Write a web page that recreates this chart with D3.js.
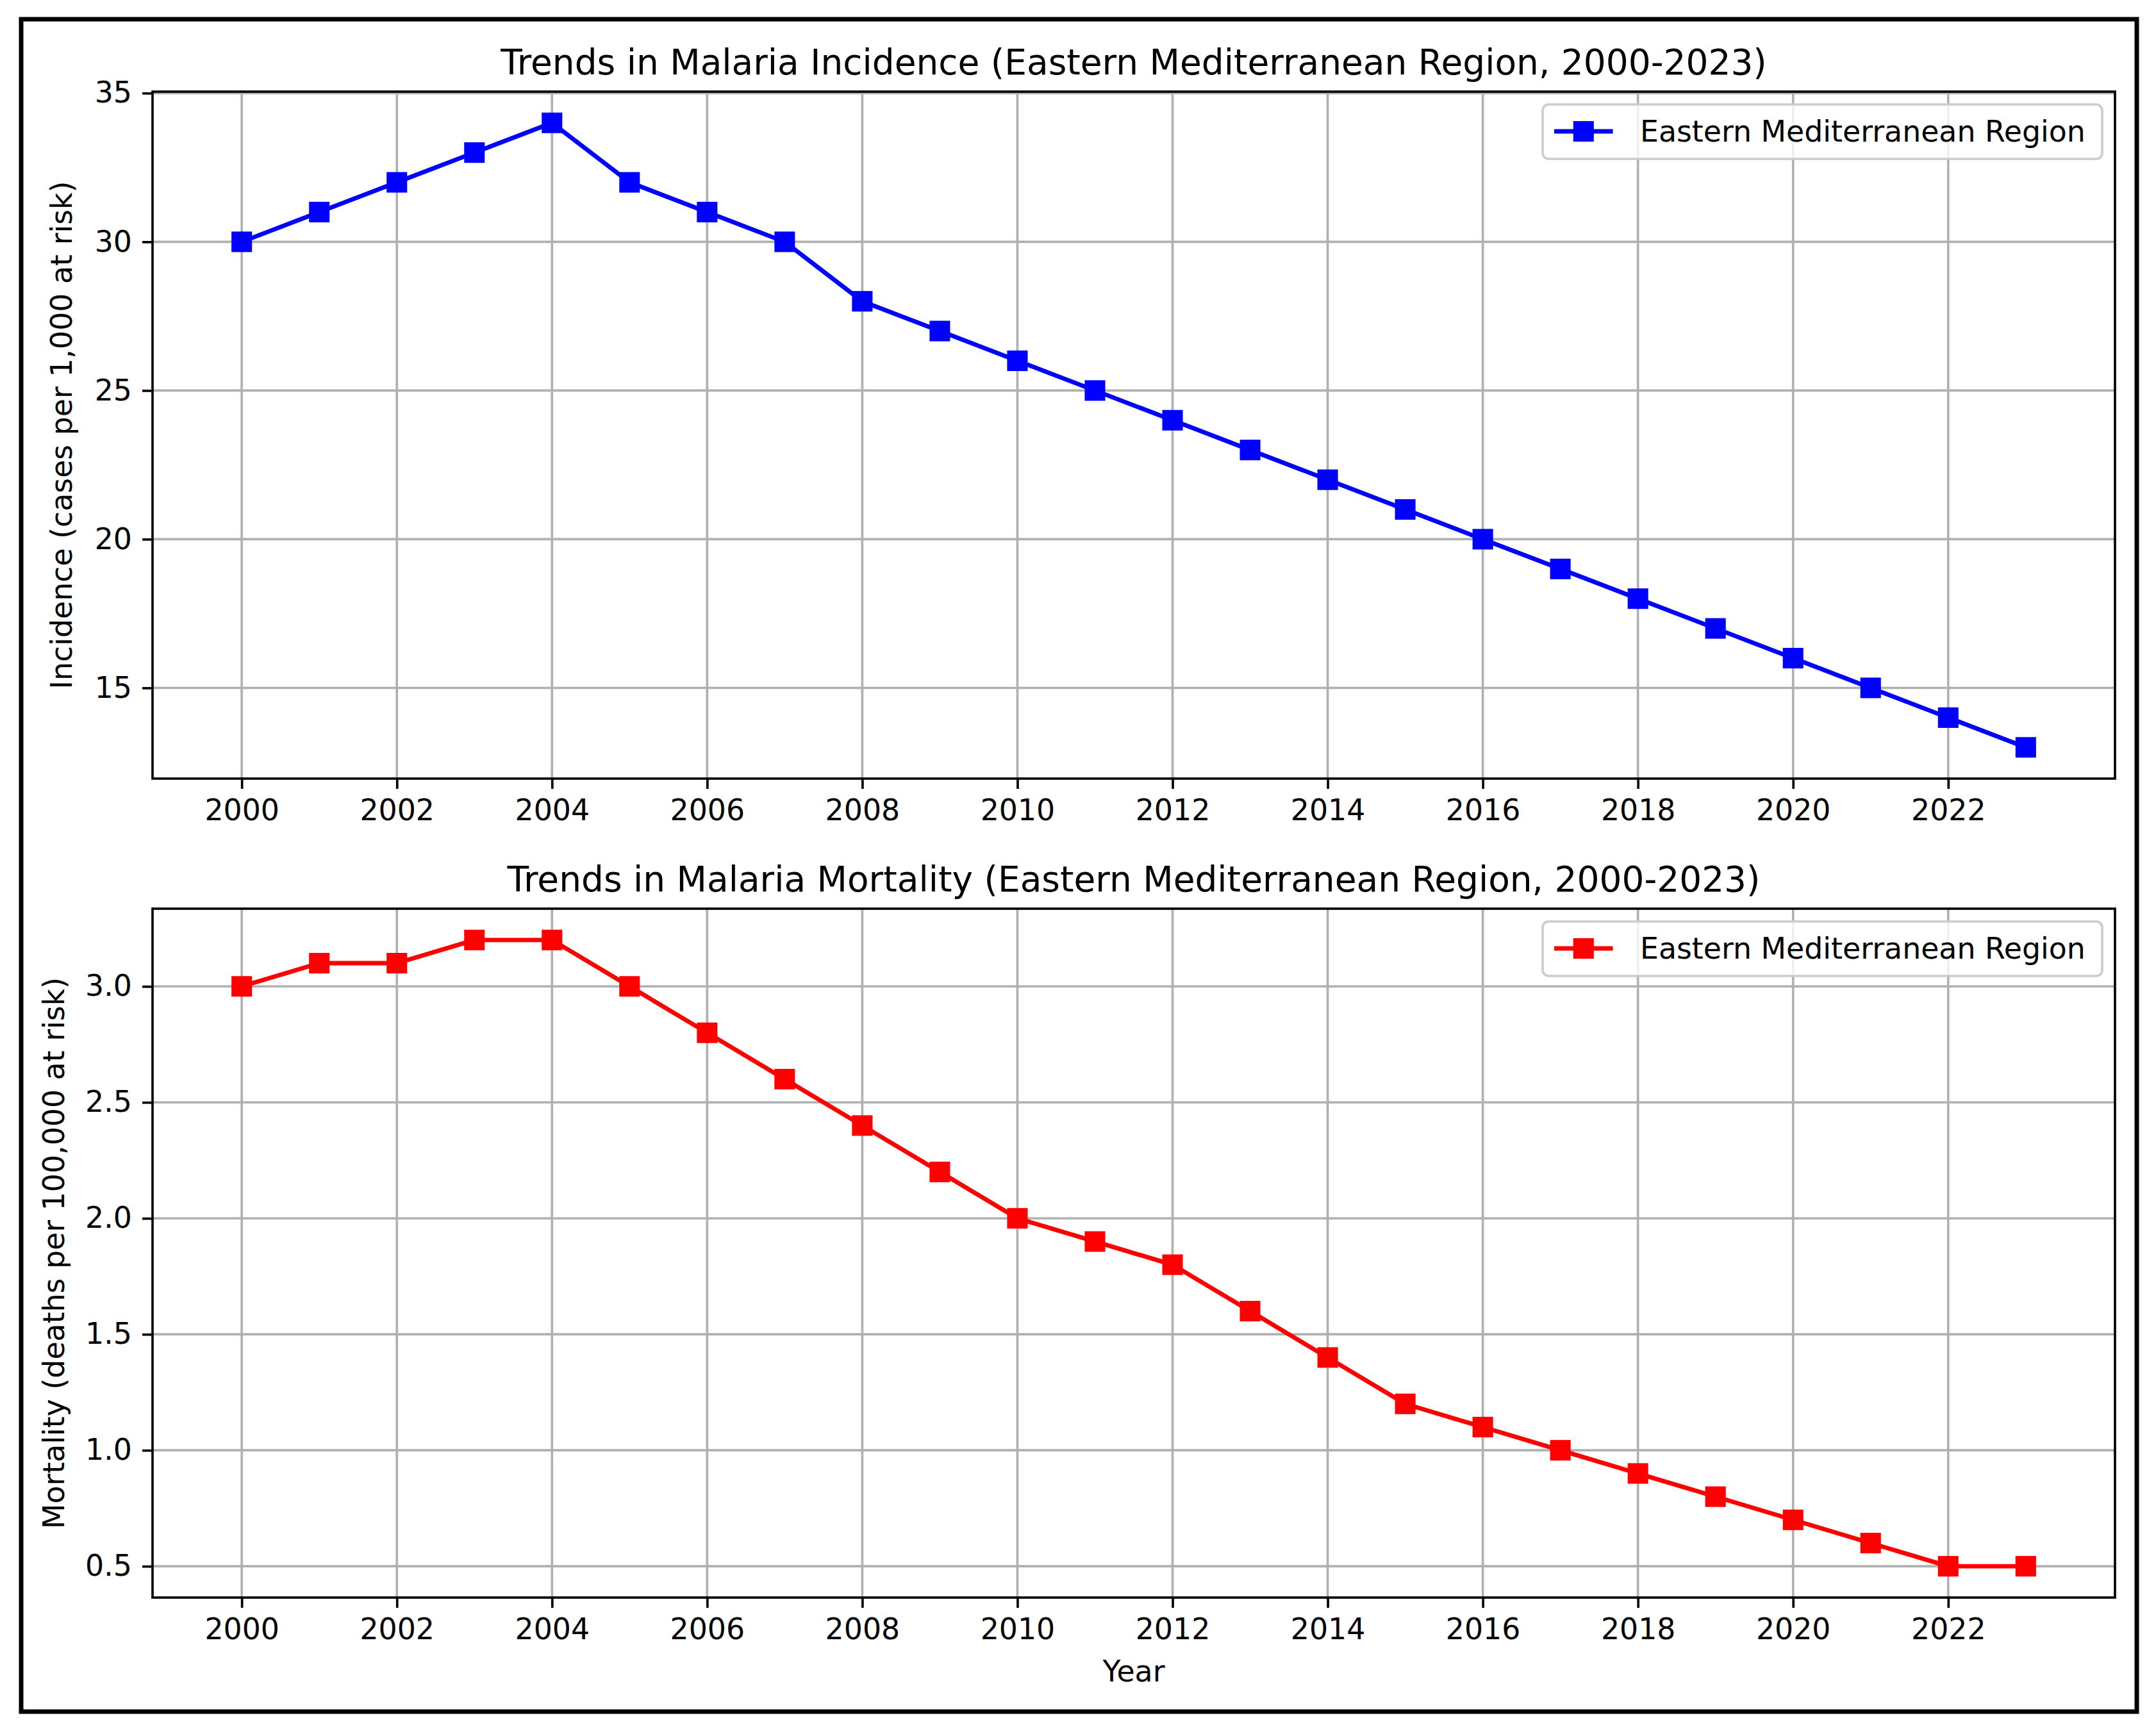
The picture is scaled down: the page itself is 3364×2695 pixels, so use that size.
<!DOCTYPE html>
<html>
<head>
<meta charset="utf-8">
<script src="https://cdn.jsdelivr.net/npm/d3@7"></script>
<style>
  html, body { margin: 0; padding: 0; background: #fff; }
  svg { display: block; }
  text { font-family: "DejaVu Sans", sans-serif; fill: #000; }
</style>
</head>
<body>
<div id="chart"></div>
<script>
// values
const years = [2000, 2001, 2002, 2003, 2004, 2005, 2006, 2007, 2008, 2009, 2010, 2011,
               2012, 2013, 2014, 2015, 2016, 2017, 2018, 2019, 2020, 2021, 2022, 2023];
const incidence = [30, 31, 32, 33, 34, 32, 31, 30, 28, 27, 26, 25,
                   24, 23, 22, 21, 20, 19, 18, 17, 16, 15, 14, 13];
const mortality = [3.0, 3.1, 3.1, 3.2, 3.2, 3.0, 2.8, 2.6, 2.4, 2.2, 2.0, 1.9,
                   1.8, 1.6, 1.4, 1.2, 1.1, 1.0, 0.9, 0.8, 0.7, 0.6, 0.5, 0.5];
const yearTicks = [2000, 2002, 2004, 2006, 2008, 2010, 2012, 2014, 2016, 2018, 2020, 2022];
const incidenceTicks = [15, 20, 25, 30, 35];
const mortalityTicks = [0.5, 1.0, 1.5, 2.0, 2.5, 3.0];
const seriesName = "Eastern Mediterranean Region";

const W = 3364, H = 2695;
const pt = 4.58;            // px per point
const fs = 10 * pt;         // tick / label font
const lw = 0.8 * pt;        // spine, grid, tick width

const svg = d3.select("#chart").append("svg")
  .attr("width", W).attr("height", H)
  .attr("viewBox", `0 0 ${W} ${H}`);

svg.append("rect").attr("width", W).attr("height", H).attr("fill", "#fff");

// outer frame round the figure
svg.append("rect")
  .attr("x", 33).attr("y", 30)
  .attr("width", 3334 - 33).attr("height", 2671 - 30)
  .attr("fill", "none").attr("stroke", "#000").attr("stroke-width", 7);

const left = 238, right = 3300;
// extend by 5% like the original plot margins
function padded(lo, hi) { const m = (hi - lo) * 0.05; return [lo - m, hi + m]; }

const x = d3.scaleLinear().domain(padded(2000, 2023)).range([left, right]);

function panel(cfg) {
  const y = d3.scaleLinear().domain(padded(d3.min(cfg.values), d3.max(cfg.values)))
    .range([cfg.bottom, cfg.top]);
  const g = svg.append("g");

  // grid
  g.append("g").selectAll("line").data(yearTicks).enter().append("line")
    .attr("x1", d => x(d)).attr("x2", d => x(d))
    .attr("y1", cfg.top).attr("y2", cfg.bottom)
    .attr("stroke", "#b0b0b0").attr("stroke-width", lw);
  g.append("g").selectAll("line").data(cfg.ticks).enter().append("line")
    .attr("x1", left).attr("x2", right)
    .attr("y1", d => y(d)).attr("y2", d => y(d))
    .attr("stroke", "#b0b0b0").attr("stroke-width", lw);

  // series
  const line = d3.line().x((d, i) => x(years[i])).y(d => y(d));
  g.append("path").datum(cfg.values)
    .attr("d", line).attr("fill", "none")
    .attr("stroke", cfg.color).attr("stroke-width", 1.5 * pt)
    .attr("stroke-linejoin", "round");
  const ms = 6 * pt;
  g.append("g").selectAll("rect").data(cfg.values).enter().append("rect")
    .attr("x", (d, i) => x(years[i]) - ms / 2).attr("y", d => y(d) - ms / 2)
    .attr("width", ms).attr("height", ms)
    .attr("fill", cfg.color).attr("stroke", cfg.color).attr("stroke-width", pt);

  // axes
  const xAxis = g.append("g").attr("transform", `translate(0,${cfg.bottom})`)
    .call(d3.axisBottom(x).tickValues(yearTicks).tickFormat(d3.format("d"))
      .tickSize(3.5 * pt).tickPadding(3.5 * pt));
  const yAxis = g.append("g").attr("transform", `translate(${left},0)`)
    .call(d3.axisLeft(y).tickValues(cfg.ticks).tickFormat(d3.format(cfg.fmt))
      .tickSize(3.5 * pt).tickPadding(3.5 * pt));
  [xAxis, yAxis].forEach(a => {
    a.select(".domain").remove();
    a.selectAll("line").attr("stroke", "#000").attr("stroke-width", lw);
    a.selectAll("text").style("font-size", fs + "px")
      .style("font-family", '"DejaVu Sans", sans-serif').attr("fill", "#000");
  });

  // spines
  g.append("rect").attr("x", left).attr("y", cfg.top)
    .attr("width", right - left).attr("height", cfg.bottom - cfg.top)
    .attr("fill", "none").attr("stroke", "#000").attr("stroke-width", lw);

  // title
  g.append("text").attr("x", (left + right) / 2).attr("y", cfg.top - 6 * pt)
    .attr("text-anchor", "middle").style("font-size", 12 * pt + "px")
    .text(cfg.title);

  // y label
  g.append("text")
    .attr("transform", `translate(${cfg.labelX},${(cfg.top + cfg.bottom) / 2}) rotate(-90)`)
    .attr("text-anchor", "middle").style("font-size", fs + "px")
    .text(cfg.ylabel);

  // legend
  const lg = g.append("g").attr("transform", `translate(2407,${cfg.top + 20})`);
  lg.append("rect").attr("width", 3280 - 2407).attr("height", 85)
    .attr("rx", 0.2 * fs).attr("fill", "#fff").attr("fill-opacity", 0.8)
    .attr("stroke", "#cccccc").attr("stroke-width", lw);
  lg.append("line").attr("x1", 18).attr("x2", 18 + 2 * fs)
    .attr("y1", 42).attr("y2", 42)
    .attr("stroke", cfg.color).attr("stroke-width", 1.5 * pt);
  lg.append("rect").attr("x", 18 + fs - ms / 2).attr("y", 42 - ms / 2)
    .attr("width", ms).attr("height", ms)
    .attr("fill", cfg.color).attr("stroke", cfg.color).attr("stroke-width", pt);
  lg.append("text").attr("x", 152).attr("y", 58)
    .style("font-size", fs + "px").text(seriesName);

  return g;
}

panel({
  values: incidence, ticks: incidenceTicks, fmt: "d", color: "#0000ff",
  top: 143, bottom: 1215, labelX: 112,
  title: "Trends in Malaria Incidence (Eastern Mediterranean Region, 2000-2023)",
  ylabel: "Incidence (cases per 1,000 at risk)"
});
panel({
  values: mortality, ticks: mortalityTicks, fmt: ".1f", color: "#ff0000",
  top: 1418, bottom: 2493, labelX: 100,
  title: "Trends in Malaria Mortality (Eastern Mediterranean Region, 2000-2023)",
  ylabel: "Mortality (deaths per 100,000 at risk)"
});

svg.append("text").attr("x", (left + right) / 2).attr("y", 2624)
  .attr("text-anchor", "middle").style("font-size", fs + "px").text("Year");
</script>
</body>
</html>
